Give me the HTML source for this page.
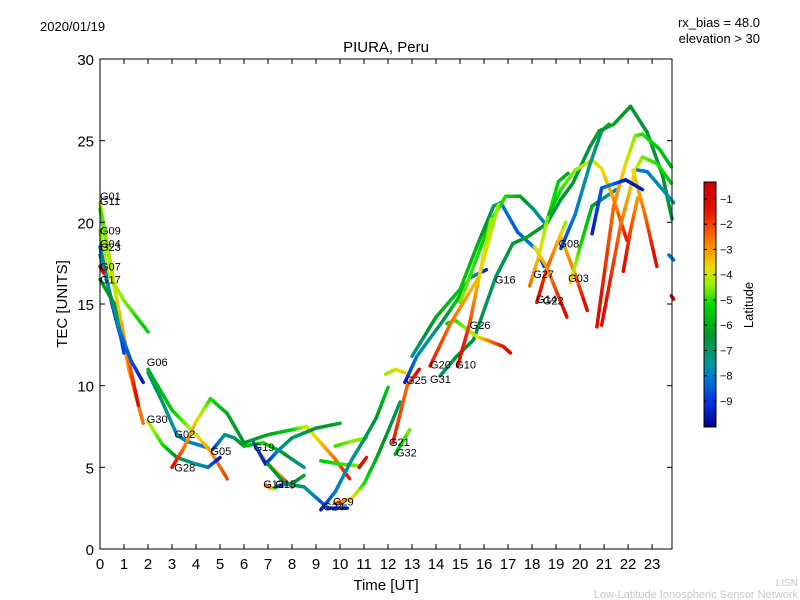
<!DOCTYPE html>
<html><head><meta charset="utf-8"><style>
body{margin:0;background:#fff;}
svg{display:block;font-family:"Liberation Sans","DejaVu Sans",sans-serif;}
</style></head><body>
<svg id="chart" width="800" height="600" xmlns="http://www.w3.org/2000/svg">
<rect width="800" height="600" fill="#fff"/>
<text x="40" y="31" font-size="13">2020/01/19</text>
<text x="760" y="27" font-size="13" text-anchor="end">rx_bias = 48.0</text>
<text x="760" y="43" font-size="13" text-anchor="end">elevation &gt; 30</text>
<text x="386" y="52" font-size="15" text-anchor="middle">PIURA, Peru</text>
<text x="386" y="590" font-size="15" text-anchor="middle">Time [UT]</text>
<text transform="translate(67,304) rotate(-90)" font-size="15" text-anchor="middle">TEC [UNITS]</text>
<text x="798" y="586" font-size="10" text-anchor="end" fill="#c8c8c8">LISN</text>
<text x="798" y="598" font-size="11" text-anchor="end" fill="#c8c8c8">Low-Latitude Ionospheric Sensor Network</text>
<g id="tracks"></g>
<g id="labels"></g>
<g id="axes"></g>
<g id="cbar"></g>
</svg>
<script>
const xTicks=[0,1,2,3,4,5,6,7,8,9,10,11,12,13,14,15,16,17,18,19,20,21,22,23];
const yTicks=[0,5,10,15,20,25,30];
const cbarTicks=[-1,-2,-3,-4,-5,-6,-7,-8,-9];
const satNames=["G01","G11","G09","G04","G23","G07","G17","G06","G30","G02","G28","G05","G19","G12","G15","G29","G24","G21","G32","G25","G31","G20","G10","G26","G16","G27","G14","G22","G08","G03"];
const satT=[0,0,0,0,0,0,0,1.95,1.95,3.1,3.1,4.6,6.4,6.8,7.3,9.7,9.3,12.04,12.33,12.75,13.75,13.75,14.8,15.4,16.45,18.05,18.17,18.45,19.1,19.5];
const satTec=[21.6,21.3,19.5,18.7,18.5,17.3,16.5,11.45,7.96,7.04,5.0,6.0,6.25,3.98,3.98,2.9,2.6,6.55,5.9,10.35,10.4,11.3,11.3,13.7,16.5,16.85,15.3,15.2,18.7,16.6];
// tracks: [time, tec, latitude]
const tracks=[
[[0,21.2,-4.5],[0.5,17,-3.5],[1.2,11,-3],[1.8,7.7,-2.5]],
[[0,20.8,-5],[0.6,16,-4],[1.2,11.5,-2.5],[1.6,8.8,-1]],
[[0,19.5,-4.5],[0.3,17,-4],[1,15.2,-4.5],[2,13.3,-5.5]],
[[0,18.5,-8],[0.5,15,-9],[1,12.2,-9.6]],
[[0,18,-7.5],[0.8,13.5,-8],[1.3,11.5,-8.5],[1.8,10.2,-9.5]],
[[0,17.3,-1.5],[0.15,16.9,-1]],
[[0,16.5,-6],[0.6,15,-6.5],[1,12,-9]],
[[2,10.8,-7.5],[2.6,9,-7],[3.2,7,-7.8],[3.6,6.6,-8],[4.5,6.2,-8]],
[[2,11,-6],[3,8.5,-5.5],[4,7,-4],[4.6,6,-3],[5.3,4.3,-2]],
[[2,7.8,-4],[2.6,6.4,-5],[3.2,5.6,-6.5],[4,5.2,-7.5],[4.5,5,-8],[5,5.6,-9.5]],
[[3,5,-1],[3.5,6.2,-2.5],[4,7.8,-3.5],[4.6,9.2,-5],[5.3,8.3,-6],[6,6.5,-6.5],[7,7,-6],[8,7.3,-5.5],[8.6,7.5,-4],[9.2,6.5,-3.5],[9.8,5.5,-2.5],[10.4,4.3,-1.5]],
[[4.7,6.1,-9],[5.2,7,-7.5],[5.6,6.8,-7],[6,6.3,-6],[6.8,6.5,-5],[7.5,6,-6],[8.5,5,-7.5]],
[[6.5,6.2,-3.8],[7,5.2,-3.5],[7.5,4.5,-3],[8,3.8,-2]],
[[6.4,6.5,-8.5],[6.9,5.2,-9.5],[7.4,6,-8],[8,6.8,-7],[9,7.4,-6.5],[10,7.7,-6]],
[[7,5.2,-6],[7.7,4,-7],[8.5,3.8,-7],[9.5,2.5,-9],[10.3,2.5,-9.5]],
[[6.9,3.9,-2],[7.2,3.7,-3],[7.5,3.9,-9],[8,4,-7],[8.5,4.5,-6]],
[[9.2,5.4,-5.5],[10,5.2,-5],[10.8,5.1,-4.5]],
[[9.8,6.3,-5],[10.5,6.6,-4.5],[11.1,6.8,-4.5]],
[[10.8,5,-1],[11.1,5.6,-1.5]],
[[9.2,2.4,-9.5],[9.8,3.5,-8],[10.5,5.5,-7.5],[11,6.7,-7],[11.5,8,-6.5],[12,9.9,-5.5]],
[[9.8,2.8,-2],[10.5,3.1,-3.5],[11,4,-5],[11.5,5.5,-6],[12,7.2,-6.5],[12.5,9,-7]],
[[11.9,10.7,-4.5],[12.3,11,-4],[12.7,10.8,-3.5]],
[[12.2,6.5,-1.5],[12.8,10,-2.5],[13.3,11,-1]],
[[12.3,5.8,-6],[12.9,7.3,-4.5]],
[[12.7,10.2,-9.5],[13.2,11.8,-8],[14.2,13.8,-7],[14.86,15.2,-5.5],[15.4,16.6,-6.5],[16.1,17.1,-9.5]],
[[13,11.8,-7.5],[14,14.2,-6],[15,15.9,-5.5],[15.8,18.9,-6],[16.4,21,-7],[16.7,21.2,-8],[17.4,19.4,-8.5],[18.2,18.3,-8],[18.5,17.3,-9]],
[[15,15.1,-4.5],[16.25,20,-5.5],[16.9,21.6,-5],[17.5,21.6,-6],[18.06,20.8,-7],[18.5,20,-8]],
[[14.17,10.6,-7],[14.86,11.8,-6.5],[15.56,12.8,-6.5],[16.5,16.7,-7],[17.2,18.7,-6.5],[17.8,19.1,-6],[18.6,19.9,-6.5],[19.2,21.4,-6.5],[19.7,22.4,-6.5],[20.4,24.6,-6.5],[20.8,25.6,-6],[21.4,26,-6],[22.1,27.1,-6.5],[22.8,25.5,-6.5],[23.45,22.8,-6.5],[23.83,20.2,-6.5]],
[[14.45,13.8,-5.5],[14.8,14,-5],[15.7,13,-4],[16.1,12.8,-3],[16.8,12.4,-1.5],[17.1,12,-1]],
[[13.75,11.2,-1.5],[14.6,13.8,-2.5],[15.8,16.7,-3.5],[16.3,20.2,-4.5]],
[[14.9,11.2,-1],[15.4,13.8,-2],[15.8,16.7,-3.5],[16.6,21.1,-4.5]],
[[17.9,16.1,-2.5],[18.3,18,-3.5],[18.6,20,-4.5],[19.1,22.5,-5.5],[19.5,23,-6]],
[[18.2,15.1,-1],[18.6,17.1,-2],[19.2,19.3,-3.5],[19.4,20,-4.5]],
[[18.1,18.5,-4],[18.6,17.3,-3],[19.45,14.2,-1]],
[[19.2,19.1,-3.5],[19.8,16.8,-2.5],[20.3,14.6,-1]],
[[19.6,16.3,-3.5],[20,18.5,-5],[20.5,21,-6],[21,21.5,-7],[21.5,22,-8]],
[[18.7,20.5,-6],[19.2,22,-5],[19.8,23.2,-4.5],[20.5,23.8,-4],[20.9,23.3,-3.8],[21.4,21.4,-3],[21.95,18.9,-1.5]],
[[20.7,13.6,-1],[21.4,21,-2.5],[21.9,23.6,-3.8],[22.3,25.3,-4.5],[22.6,25.4,-5],[23.3,24.5,-5.5],[23.8,23.4,-6]],
[[20.9,13.7,-1],[21.7,19.9,-2.5],[22.3,23.2,-3.8],[22.6,24,-4.5],[23.2,23.6,-5],[23.8,22.4,-5.5]],
[[22.2,23.2,-3.8],[22.7,20.5,-2.5],[23.2,17.3,-1]],
[[21.8,17,-1],[22.1,19.5,-2],[22.4,21.5,-3]],
[[20.5,19.3,-9.5],[20.9,22.1,-8.5],[21.3,22.3,-8],[21.9,22.6,-9.5],[22.6,22,-9.5]],
[[19.2,18.4,-9],[19.8,20.5,-8],[20.4,23.5,-7.5],[20.9,25.6,-7],[21.2,26,-6]],
[[22.4,23.2,-8],[22.8,23.1,-8],[23.9,21.2,-7.5]],
[[23.7,18,-8],[23.9,17.7,-8]],
[[23.8,15.5,-1],[23.9,15.3,-1]]
];
const NS="http://www.w3.org/2000/svg";
const X0=100,X1=672,Y0=549,Y1=59,TMAX=23.83,VMAX=30;
const xs=t=>X0+t*(X1-X0)/TMAX, ys=v=>Y0-v*(Y0-Y1)/VMAX;
const LMIN=-10.03,LMAX=-0.33;
const stops=[[0,200,0,0],[0.12,230,20,0],[0.25,255,130,0],[0.35,235,220,0],[0.42,150,240,0],[0.5,0,220,0],[0.62,0,150,40],[0.74,0,150,150],[0.8,0,120,210],[0.9,0,50,220],[1,0,0,140]];
function cmap(v){let f=(LMAX-v)/(LMAX-LMIN);f=Math.max(0,Math.min(1,f));
 for(let i=0;i<stops.length-1;i++){const a=stops[i],b=stops[i+1];if(f<=b[0]){const u=(f-a[0])/(b[0]-a[0]);
  return `rgb(${Math.round(a[1]+(b[1]-a[1])*u)},${Math.round(a[2]+(b[2]-a[2])*u)},${Math.round(a[3]+(b[3]-a[3])*u)})`;}}
 return 'rgb(0,0,140)';}
const tg=document.getElementById('tracks');
tracks.forEach((tr,i)=>{
 const g=document.createElementNS(NS,'g');
 
 
 for(let k=0;k<tr.length-1;k++){const a=tr[k],b=tr[k+1];const n=6;
  for(let s=0;s<n;s++){const u0=s/n,u1=(s+1)/n;
   const l=document.createElementNS(NS,'line');
   l.setAttribute('x1',xs(a[0]+(b[0]-a[0])*u0));l.setAttribute('y1',ys(a[1]+(b[1]-a[1])*u0));
   l.setAttribute('x2',xs(a[0]+(b[0]-a[0])*u1));l.setAttribute('y2',ys(a[1]+(b[1]-a[1])*u1));
   l.setAttribute('stroke',cmap(a[2]+(b[2]-a[2])*(u0+u1)/2));l.setAttribute('stroke-width','3.5');l.setAttribute('stroke-linecap','round');
   g.appendChild(l);}}
 tg.appendChild(g);});
const lg=document.getElementById('labels');
satNames.forEach((nm,i)=>{const t=document.createElementNS(NS,'text');
 t.setAttribute('x',xs(satT[i]));t.setAttribute('y',ys(satTec[i])+4);t.setAttribute('font-size','11');t.textContent=nm;
 
 
 lg.appendChild(t);});
const ax=document.getElementById('axes');
function add(p,tag,attrs,txt){const e=document.createElementNS(NS,tag);for(const k in attrs)e.setAttribute(k,attrs[k]);if(txt!==undefined)e.textContent=txt;p.appendChild(e);return e;}
const fr=add(ax,'rect',{x:X0,y:Y1,width:X1-X0,height:Y0-Y1,fill:'none',stroke:'#000','stroke-width':1});


xTicks.forEach(v=>{const x=xs(v);add(ax,'line',{x1:x,y1:Y0,x2:x,y2:Y0-5,stroke:'#000'});add(ax,'line',{x1:x,y1:Y1,x2:x,y2:Y1+5,stroke:'#000'});
 const t=add(ax,'text',{x:x,y:Y0+20,'font-size':15,'text-anchor':'middle'},v);
 
 });
yTicks.forEach(v=>{const y=ys(v);add(ax,'line',{x1:X0,y1:y,x2:X0+5,y2:y,stroke:'#000'});add(ax,'line',{x1:X1,y1:y,x2:X1-5,y2:y,stroke:'#000'});
 const t=add(ax,'text',{x:X0-6,y:y+6,'font-size':15,'text-anchor':'end'},v);
 
 });
const cb=document.getElementById('cbar');
const CT=182,CB=427,CX=704,CW=12;
for(let i=0;i<CB-CT;i++){const v=LMAX-(i+0.5)/(CB-CT)*(LMAX-LMIN);add(cb,'rect',{x:CX,y:CT+i,width:CW,height:1.2,fill:cmap(v)});}
add(cb,'rect',{x:CX,y:CT,width:CW,height:CB-CT,fill:'none',stroke:'#000'});
const cy=v=>CT+(LMAX-v)/(LMAX-LMIN)*(CB-CT);
cbarTicks.forEach(v=>{const y=cy(v);add(cb,'line',{x1:CX,y1:y,x2:CX+3,y2:y,stroke:'#000'});add(cb,'line',{x1:CX+CW,y1:y,x2:CX+CW-3,y2:y,stroke:'#000'});
 const t=add(cb,'text',{x:CX+CW+4,y:y+4,'font-size':11},'\u2212'+(-v));
 
 });
const cl=add(cb,'text',{transform:'translate(753,305) rotate(-90)','font-size':13,'text-anchor':'middle'},'Latitude');


</script>
</body></html>
